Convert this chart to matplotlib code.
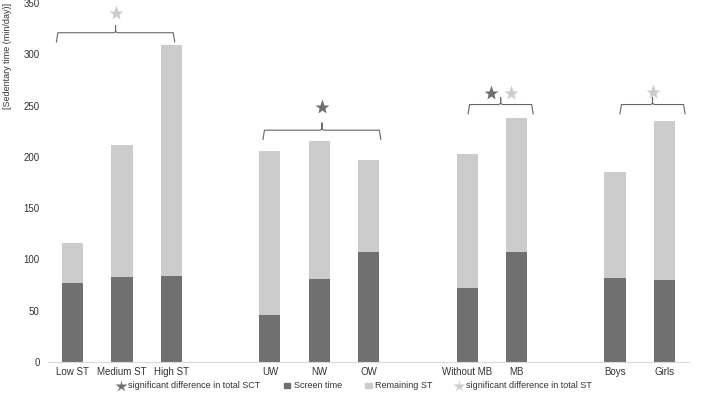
import matplotlib.pyplot as plt
import numpy as np
from matplotlib.lines import Line2D
from matplotlib.patches import Patch

plt.rcParams['font.family'] = ['Liberation Sans', 'DejaVu Sans']

# categories, with blank slots between the groups (as in the original sheet)
categories = ['Low ST', 'Medium ST', 'High ST', '', 'UW', 'NW', 'OW', '',
              'Without MB', 'MB', '', 'Boys', 'Girls']
screen_time = [77, 83, 84, np.nan, 46, 81, 107, np.nan, 72, 107, np.nan, 82, 80]
total_st = [116, 212, 309, np.nan, 206, 215, 197, np.nan, 203, 238, np.nan, 185, 235]
remaining_st = [t - s for t, s in zip(total_st, screen_time)]

dark = '#707070'
light = '#cccccc'

# brackets: (left, right, height, star height, stars as (colour, x offset))
brackets = [
    (-0.33, 2.07, 321, 340, [('light', 0)]),
    (3.86, 6.25, 226, 249, [('dark', 0)]),
    (8.02, 9.34, 251, 262, [('dark', -0.2), ('light', 0.2)]),
    (11.1, 12.42, 251, 263, [('light', 0)]),
]

fig = plt.figure(figsize=(7.09, 4.05), dpi=100)
ax = fig.add_axes([48 / 709, 43 / 405, 641 / 709, 359 / 405])

x = np.arange(len(categories))
w = 0.43
ax.bar(x, screen_time, w, color=dark, zorder=2)
ax.bar(x, remaining_st, w, bottom=screen_time, color=light, zorder=2)

for xa, xb, h, hs, stars in brackets:
    xm = (xa + xb) / 2
    ax.plot([xa, xa + 0.03, xm - 0.04, xm, xm, xm, xm + 0.04, xb - 0.03, xb],
            [h - 9, h, h, h + 1, h + 7, h + 1, h, h, h - 9],
            color='#666666', lw=0.8, solid_joinstyle='round')
    for col, dx in stars:
        ax.plot(xm + dx, hs, marker='*', ms=11,
                color=dark if col == 'dark' else light, mec='none')

ax.set_xlim(-0.5, len(categories) - 0.5)
ax.set_ylim(0, 350)
ax.set_yticks(np.arange(0, 351, 50))
ax.set_xticks(x)
ax.set_xticklabels(categories)
ax.tick_params(axis='both', length=0, labelsize=7, colors='#333333')
ax.tick_params(axis='y', pad=6)
for s in ['top', 'right', 'left']:
    ax.spines[s].set_visible(False)
ax.spines['bottom'].set_color('#d9d9d9')

fig.text(8 / 709, 1 - 3 / 405, '[Sedentary time (min/day)]', rotation=90,
         ha='center', va='top', fontsize=6.5, color='#333333')

handles = [
    Line2D([], [], ls='none', marker='*', ms=9, color=dark, mec='none'),
    Patch(color=dark),
    Patch(color=light),
    Line2D([], [], ls='none', marker='*', ms=9, color=light, mec='none'),
]
labels = ['significant difference in total SCT', 'Screen time', 'Remaining ST',
          'significant difference in total ST']
fig.legend(handles, labels, loc='center', bbox_to_anchor=(355 / 709, 1 - 386 / 405),
           ncol=4, frameon=False, fontsize=6.5, handlelength=0.7, handleheight=0.5,
           handletextpad=0.4, columnspacing=2.6, labelcolor='#333333')

fig.savefig('out.png', dpi=100)
